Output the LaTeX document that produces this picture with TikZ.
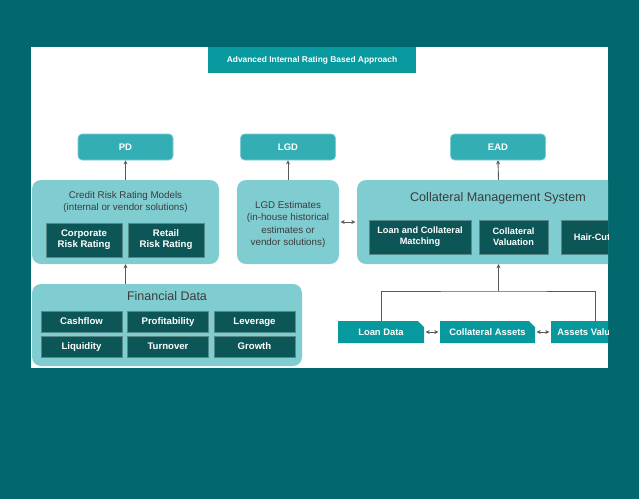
\documentclass[tikz,border=0pt]{standalone}
\usepackage{fontspec}
\setmainfont{Liberation Sans}
\usepackage{tikz}
\usetikzlibrary{arrows.meta}
\usetikzlibrary{shapes.misc}
\definecolor{frame}{HTML}{03686D}
\definecolor{tealmid}{HTML}{08999E}
\definecolor{teallight}{HTML}{33AEB4}
\definecolor{tealpale}{HTML}{80CDD1}
\definecolor{tealdark}{HTML}{0D5658}
\definecolor{txtgray}{HTML}{3C3C3C}
\tikzstyle{banner}=[fill=tealmid,text=white,font=\fontsize{8.4}{10}\selectfont\bfseries,inner sep=0pt]
\tikzstyle{metric}=[fill=teallight,draw=tealpale,line width=0.6pt,rounded corners=4pt,text=white,
  font=\fontsize{9.5}{11}\selectfont\bfseries,minimum width=95pt,minimum height=26pt,inner sep=0pt]
\tikzstyle{group}=[fill=tealpale,rounded corners=9pt,inner sep=0pt]
\tikzstyle{item}=[fill=tealdark,draw=tealdark!70!white,line width=0.5pt,text=white,align=center,
  font=\fontsize{9.6}{11}\selectfont\bfseries,inner sep=0pt]
\tikzstyle{feed}=[chamfered rectangle,chamfered rectangle corners=north east,chamfered rectangle xsep=3pt,
  chamfered rectangle ysep=3pt,fill=tealmid,text=white,font=\fontsize{9.4}{11}\selectfont\bfseries,
  minimum height=22pt,inner sep=0pt]
\tikzstyle{note}=[text=txtgray,align=center,font=\fontsize{9.8}{12.3}\selectfont]
\tikzstyle{arr}=[draw=black!65,line width=0.9pt,-{Stealth[length=4pt,width=4pt]}]
\tikzstyle{dbl}=[draw=black!65,line width=0.9pt,{Stealth[length=4pt,width=4pt]}-{Stealth[length=4pt,width=4pt]},shorten <=1.5pt,shorten >=1.5pt]
\tikzstyle{wire}=[draw=black!65,line width=0.9pt]

\begin{document}
\begin{tikzpicture}[x=1pt,y=-1pt]
  \useasboundingbox (0,0) rectangle (639,499);
  \fill[frame] (0,0) rectangle (639,499);
  \fill[white] (31,47) rectangle (608,368);
  \begin{scope}
    \clip (31,47) rectangle (608,368);
    \node[banner,minimum width=208pt,minimum height=26pt] (title) at (312,60) {Advanced Internal Rating Based Approach};

    % top level metrics
    \node[metric] (pd) at (125.5,147) {PD};
    \node[metric] (lgd) at (288,147) {LGD};
    \node[metric] (ead) at (498,147) {EAD};

    % rating models
    \node[group,minimum width=187pt,minimum height=84pt] (crrm) at (125.5,222) {};
    \node[note] (crrmlbl) at (125.5,202) {Credit Risk Rating Models\\(internal or vendor solutions)};
    \node[item,minimum width=76pt,minimum height=34pt] (corp) at (84,240) {Corporate\\Risk Rating};
    \node[item,minimum width=76pt,minimum height=34pt] (retail) at (166,240) {Retail\\Risk Rating};

    % financial data
    \node[group,minimum width=270pt,minimum height=82pt] (fin) at (167,325) {};
    \node[note,font=\fontsize{12.5}{14}\selectfont] (finlbl) at (167,296) {Financial Data};
    \foreach \t [count=\i] in {Cashflow,Profitability,Leverage,Liquidity,Turnover,Growth}{
      \pgfmathsetmacro{\cx}{81.5+86.5*mod(\i-1,3)}
      \pgfmathsetmacro{\cy}{321.5+25*int((\i-1)/3)}
      \node[item,minimum width=81pt,minimum height=21pt,text height=7pt,text depth=2pt] (f\i) at (\cx,\cy) {\t};
    }

    % lgd estimates
    \node[group,minimum width=102pt,minimum height=84pt] (lgde) at (288,222) {};
    \node[note,font=\fontsize{9.8}{12.5}\selectfont] (lgdelbl) at (288,224.5)
      {LGD Estimates\\(in-house historical\\estimates or\\vendor solutions)};

    % collateral system
    \node[group,minimum width=283pt,minimum height=84pt] (cms) at (498.5,222) {};
    \node[note,font=\fontsize{12.6}{14}\selectfont] (cmslbl) at (498,198.5) {Collateral Management System};
    \node[item,minimum width=102pt,minimum height=34pt,font=\fontsize{9.2}{11}\selectfont\bfseries] (match) at (420,237) {Loan and Collateral\\Matching};
    \node[item,minimum width=69pt,minimum height=34pt,font=\fontsize{9.2}{11}\selectfont\bfseries] (cval) at (513.5,237) {Collateral\\Valuation};
    \node[item,minimum width=62pt,minimum height=34pt,font=\fontsize{9.2}{11}\selectfont\bfseries] (hcut) at (592,237) {Hair-Cut};

    % data feeds
    \node[feed,minimum width=86pt] (loan) at (381,332) {Loan Data};
    \node[feed,minimum width=95pt] (colla) at (487.5,332) {Collateral Assets};
    \node[feed,minimum width=88pt] (assetv) at (595,332) {Assets Valuation};
    \coordinate (split) at (498.5,291);

    \draw[arr] (crrm.north) -- (pd.south);
    \draw[arr] (lgde.north) -- (lgd.south);
    \draw[arr] (cms.north) -- (ead.south);
    \draw[arr] (fin.north -| crrm.south) -- (crrm.south);
    \draw[dbl] (lgde.east) -- (cms.west);
    \draw[wire] (loan.north) |- (split) -| (assetv.north);
    \draw[arr] (split) -- (cms.south);
    \draw[dbl] (loan.east) -- (colla.west);
    \draw[dbl] (colla.east) -- (assetv.west);
  \end{scope}
\end{tikzpicture}
\end{document}
